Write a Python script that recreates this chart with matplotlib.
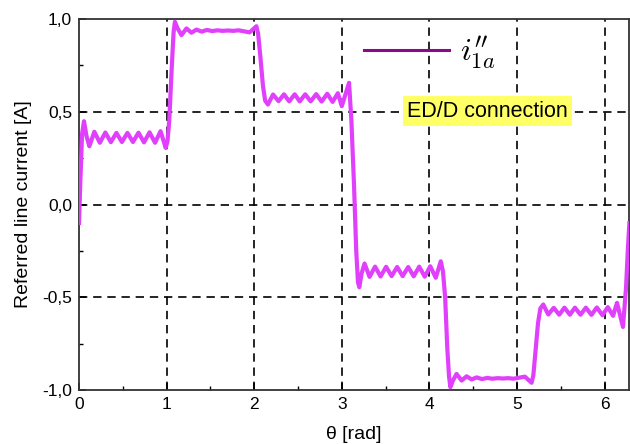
import numpy as np
import matplotlib
matplotlib.use('Agg')
import matplotlib.pyplot as plt
from matplotlib.lines import Line2D
from matplotlib.ticker import MultipleLocator, FuncFormatter

plt.rcParams['font.family'] = ['Liberation Sans', 'DejaVu Sans']
plt.rcParams['mathtext.fontset'] = 'cm'

# theta [rad] and referred line current [A]
theta = [
    0.000, 0.015, 0.035, 0.057, 0.085, 0.118, 0.175, 0.238, 0.301, 0.364,
    0.427, 0.490, 0.553, 0.616, 0.679, 0.742, 0.805, 0.868, 0.931, 0.990,
    1.010, 1.030, 1.060, 1.080, 1.095,
    1.125, 1.170, 1.227, 1.284, 1.341, 1.400, 1.460, 1.520, 1.580, 1.640,
    1.700, 1.760, 1.820, 1.880, 1.948, 2.025, 2.045, 2.070, 2.100, 2.125,
    2.157,
    2.215, 2.278, 2.340, 2.400, 2.462, 2.520, 2.583, 2.645, 2.708, 2.770,
    2.834, 2.895, 2.955, 3.000, 3.083, 3.110, 3.140, 3.165, 3.185, 3.200,
    3.227, 3.260, 3.317, 3.380, 3.443, 3.506, 3.569, 3.632, 3.695, 3.758,
    3.821, 3.884, 3.947, 4.010, 4.073, 4.130, 4.155, 4.180, 4.205, 4.225,
    4.240,
    4.268, 4.310, 4.368, 4.425, 4.482, 4.540, 4.600, 4.660, 4.720, 4.780,
    4.840, 4.900, 4.960, 5.020, 5.090, 5.167, 5.187, 5.210, 5.240, 5.267,
    5.300,
    5.357, 5.420, 5.482, 5.542, 5.604, 5.662, 5.725, 5.787, 5.850, 5.912,
    5.976, 6.037, 6.097, 6.142, 6.210, 6.245, 6.265, 6.283,
]
current = [
    -0.100, 0.120, 0.380, 0.449, 0.370, 0.314, 0.392, 0.333, 0.388, 0.336,
    0.386, 0.337, 0.386, 0.337, 0.387, 0.335, 0.389, 0.333, 0.395, 0.305,
    0.340, 0.450, 0.750, 0.930, 0.985,
    0.950, 0.913, 0.949, 0.926, 0.943, 0.932, 0.941, 0.935, 0.939, 0.936,
    0.938, 0.936, 0.939, 0.934, 0.928, 0.961, 0.920, 0.800, 0.640, 0.560,
    0.539,
    0.593, 0.557, 0.594, 0.556, 0.594, 0.556, 0.594, 0.556, 0.595, 0.555,
    0.597, 0.553, 0.600, 0.530, 0.656, 0.450, 0.100, -0.250, -0.420, -0.446,
    -0.370, -0.318, -0.390, -0.335, -0.388, -0.336, -0.386, -0.337, -0.386, -0.337,
    -0.387, -0.335, -0.389, -0.333, -0.395, -0.306, -0.360, -0.500, -0.780, -0.930,
    -0.985,
    -0.950, -0.913, -0.949, -0.926, -0.943, -0.932, -0.941, -0.935, -0.939, -0.936,
    -0.938, -0.936, -0.939, -0.934, -0.928, -0.961, -0.920, -0.800, -0.640, -0.560,
    -0.539,
    -0.593, -0.557, -0.594, -0.556, -0.594, -0.556, -0.594, -0.556, -0.595, -0.555,
    -0.597, -0.553, -0.600, -0.530, -0.660, -0.450, -0.250, -0.100,
]

grid_x = [1, 2, 3, 4, 5, 6]
grid_y = [-0.5, 0.0, 0.5]

fig = plt.figure(figsize=(6.3, 4.44), dpi=100)
ax = fig.add_axes([0.1254, 0.1216, 0.8736, 0.8356])

# dashed grid
for gx in grid_x:
    ax.axvline(gx, color='black', lw=1.2, ls=(0, (5, 3.5)), zorder=1)
for gy in grid_y:
    ax.axhline(gy, color='black', lw=1.2, ls=(0, (5, 3.5)), zorder=1)

ax.plot(theta, current, color='#e040fb', lw=3.0, solid_joinstyle='round', zorder=3)

ax.set_xlim(0, 2 * np.pi)
ax.set_ylim(-1.0, 1.0)
ax.xaxis.set_major_locator(MultipleLocator(1))
ax.xaxis.set_minor_locator(MultipleLocator(0.5))
ax.yaxis.set_major_locator(MultipleLocator(0.5))
ax.yaxis.set_minor_locator(MultipleLocator(0.25))
ax.yaxis.set_major_formatter(FuncFormatter(lambda v, p: f"{v:.1f}".replace('.', ',')))
ax.tick_params(which='both', direction='in', labelsize=12.5, colors='black')
ax.tick_params(which='major', length=5, width=1.2, pad=5)
ax.tick_params(which='minor', length=3, width=1.0)
for s in ax.spines.values():
    s.set_linewidth(1.3)
    s.set_color('#333333')

ax.set_xlabel('θ [rad]', fontsize=14, labelpad=10)
ax.set_ylabel('Referred line current [A]', fontsize=14, labelpad=7)

# legend drawn in a darker purple, like the original
handle = Line2D([], [], color='#8b0a8b', lw=2.2)
ax.legend([handle], [r"$i^{\prime\prime}_{1a}$"], loc='center left',
          bbox_to_anchor=(0.518, 0.91), frameon=False, fontsize=23,
          handlelength=2.65, handletextpad=0.35, borderpad=0, borderaxespad=0)

ax.text(0.742, 0.752, 'ED/D connection', transform=ax.transAxes, fontsize=15.5,
        ha='center', va='center', zorder=5,
        bbox=dict(facecolor='#ffff66', edgecolor='none', pad=3))

fig.savefig('out.png', dpi=100)
